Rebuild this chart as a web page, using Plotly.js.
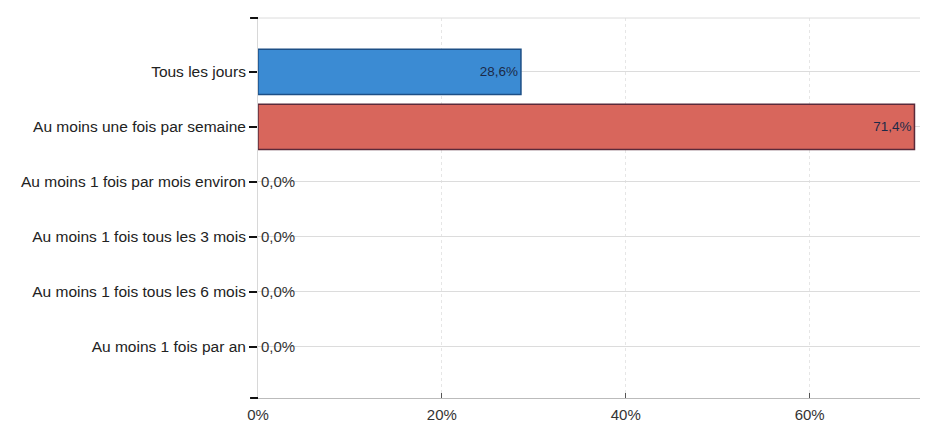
<!DOCTYPE html>
<html>
<head>
<meta charset="utf-8">
<script src="https://cdn.plot.ly/plotly-3.0.1.min.js"></script>
<style>html,body{margin:0;padding:0;background:#fff;}#chart{width:930px;height:427px;}</style>
</head>
<body>
<div id="chart"></div>
<script>
const categories = [
  "Tous les jours",
  "Au moins une fois par semaine",
  "Au moins 1 fois par mois environ",
  "Au moins 1 fois tous les 3 mois",
  "Au moins 1 fois tous les 6 mois",
  "Au moins 1 fois par an"
];
const values = [28.6, 71.4, 0, 0, 0, 0];
const barColors = ["#3b8bd3", "#d8665c", "#999", "#999", "#999", "#999"];
const borderColors = ["#1d4f86", "#5a2a3a", "#999", "#999", "#999", "#999"];
const xTickVals = [0, 20, 40, 60];
const xTickText = ["0%", "20%", "40%", "60%"];

const FONT = "'Liberation Sans', Arial, sans-serif";

const trace = {
  type: "bar",
  orientation: "h",
  y: categories,
  x: values,
  marker: {color: barColors, line: {color: borderColors, width: values.map(v => v > 0 ? 1.5 : 0)}},
  texttemplate: "%{x:.1f}%",
  textposition: values.map(v => v > 0 ? "inside" : "outside"),
  insidetextanchor: "end",
  textfont: {family: FONT, size: values.map(v => v > 0 ? 13.5 : 15), color: values.map(v => v > 0 ? "#1c2a48" : "#333")},
  cliponaxis: false,
  hoverinfo: "skip"
};

const layout = {
  width: 930, height: 427,
  margin: {l: 258, r: 10, t: 18, b: 29},
  paper_bgcolor: "#fff", plot_bgcolor: "#fff",
  separators: ", ",
  bargap: 0.18,
  showlegend: false,
  font: {family: FONT, size: 15.5, color: "#222"},
  xaxis: {
    range: [0, 72],
    tickvals: xTickVals,
    ticktext: xTickText,
    ticks: "inside", ticklen: 5, tickcolor: "#555",
    ticklabelstandoff: 3,
    showgrid: true, gridcolor: "#e6e6e6", griddash: "dot",
    zeroline: false,
    showline: true, linecolor: "#bbb", linewidth: 1,
    tickfont: {family: FONT, size: 15, color: "#333"},
    fixedrange: true
  },
  yaxis: {
    type: "category",
    categoryarray: categories,
    range: [5.93, -0.98],
    ticks: "outside", ticklen: 8, tickcolor: "#111", tickwidth: 1.5,
    showgrid: true, gridcolor: "#dcdcdc",
    showline: true, linecolor: "#d8d8d8", linewidth: 1,
    zeroline: false,
    tickfont: {family: FONT, size: 15.5, color: "#222"},
    fixedrange: true
  },
  shapes: [
    {type: "line", xref: "paper", yref: "paper", x0: 0, x1: 1, y0: 1, y1: 1, line: {color: "#dcdcdc", width: 1}},
    {type: "line", xref: "paper", yref: "paper", x0: -0.012, x1: 0, y0: 1, y1: 1, line: {color: "#111", width: 2}},
    {type: "line", xref: "paper", yref: "paper", x0: -0.012, x1: 0, y0: 0, y1: 0, line: {color: "#111", width: 2}}
  ]
};

Plotly.newPlot("chart", [trace], layout, {displayModeBar: false, staticPlot: true});
</script>
</body>
</html>
